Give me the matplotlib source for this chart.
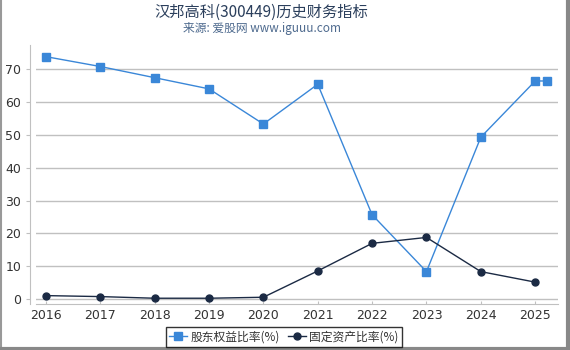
import matplotlib
matplotlib.use("Agg")
import matplotlib.pyplot as plt
from matplotlib.lines import Line2D

plt.rcParams['font.family'] = ['Noto Sans CJK SC', 'DejaVu Sans']

# data
years = [2016, 2017, 2018, 2019, 2020, 2021, 2022, 2023, 2024, 2025, 2025.22]
equity_ratio = [73.8, 70.8, 67.4, 64.0, 53.3, 65.4, 25.7, 8.4, 49.3, 66.4, 66.4]
fixed_years = [2016, 2017, 2018, 2019, 2020, 2021, 2022, 2023, 2024, 2025]
fixed_ratio = [1.1, 0.8, 0.3, 0.3, 0.6, 8.6, 17.0, 18.8, 8.4, 5.2]
tick_years = [2016, 2017, 2018, 2019, 2020, 2021, 2022, 2023, 2024, 2025]

fig = plt.figure(figsize=(5.7, 3.5), dpi=100)
ax = fig.add_axes([0.063, 0.131, 0.916, 0.74])

ax.plot(years, equity_ratio, color="#3a87d8", lw=1, marker="s", ms=5.5,
        label="股东权益比率(%)", zorder=3)
ax.plot(fixed_years, fixed_ratio, color="#1b2a44", lw=1, marker="o", ms=5,
        label="固定资产比率(%)", zorder=3)

ax.set_xlim(2015.816, 2025.42)
ax.set_ylim(-1.5, 77.3)
ax.set_xticks(tick_years)
ax.set_xticklabels([str(y) for y in tick_years])
ax.set_yticks(range(0, 80, 10))
ax.grid(axis="y", color="#c0c0c0", lw=1)
ax.set_axisbelow(True)

for s in ["top", "right"]:
    ax.spines[s].set_visible(False)
ax.spines["left"].set_position(("outward", 4))
ax.spines["left"].set_color("#c0c0c0")
ax.spines["bottom"].set_color("#c0c0c0")
ax.tick_params(axis="both", colors="#c0c0c0", labelcolor="#333333",
               labelsize=9, length=3)
ax.tick_params(axis="x", direction="in", length=2)
for lab in ax.get_xticklabels() + ax.get_yticklabels():
    lab.set_family("DejaVu Sans")

fig.text(0.459, 0.965, "汉邦高科(300449)历史财务指标", ha="center", va="center",
         fontsize=11, color="#2b3f5c")
fig.text(0.459, 0.918, "来源: 爱股网 www.iguuu.com", ha="center", va="center",
         fontsize=8.5, color="#4e6a8e")

leg = fig.legend(loc="center", bbox_to_anchor=(0.498, 0.037), ncol=2,
                 fontsize=8.5, frameon=True, fancybox=False, handlelength=1.5,
                 handletextpad=0.3, columnspacing=0.7, borderpad=0.3)
leg.get_frame().set_edgecolor("black")
leg.get_frame().set_linewidth(1)
for t in leg.get_texts():
    t.set_color("#333333")

# figure border
fig.add_artist(Line2D([0.001, 0.001], [0, 1], color="#999999", lw=1.5))
fig.add_artist(Line2D([0.997, 0.997], [0, 1], color="#888888", lw=3))
fig.add_artist(Line2D([0, 1], [0.003, 0.003], color="#888888", lw=3))

fig.savefig("out.png", dpi=100)
